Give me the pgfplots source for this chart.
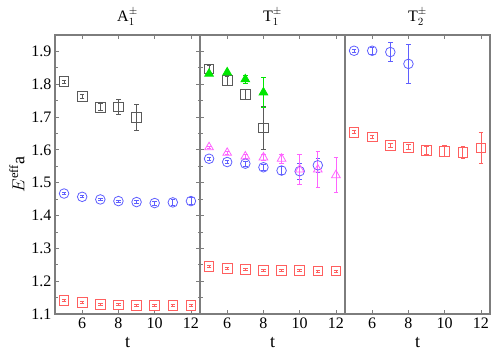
\documentclass[border=0pt]{standalone}
\usepackage{fontspec}
\setmainfont{Liberation Serif}
\usepackage{pgfplots}
\pgfplotsset{compat=1.18}
\usepgfplotslibrary{groupplots}
\definecolor{cred}{RGB}{255,95,95}
\definecolor{cblue}{RGB}{95,95,255}
\definecolor{cgray}{RGB}{90,90,90}
\definecolor{cgreen}{RGB}{0,230,0}
\definecolor{cmag}{RGB}{255,100,255}
\definecolor{caxis}{RGB}{125,125,125}
\pgfplotsset{
  ser/.style={only marks, mark size=#1, line width=0.8pt,
    error bars/.cd, y dir=both, y explicit,
    error bar style={line width=0.8pt},
    error mark options={rotate=90, mark size=2.2pt, line width=0.8pt},
    /pgfplots/.cd},
  redser/.style={ser=4.8pt, color=cred, mark=square, mark options={draw=cred, fill=none}},
  blueser/.style={ser=4.8pt, color=cblue, mark=o, mark options={draw=cblue, fill=none}},
  grayser/.style={ser=4.8pt, color=cgray, mark=square, mark options={draw=cgray, fill=none}},
  greenser/.style={ser=5pt, color=cgreen, mark=triangle*, mark options={draw=cgreen, fill=cgreen}},
  magser/.style={ser=5pt, color=cmag, mark=triangle, mark options={draw=cmag, fill=none}},
}
\begin{document}
\begin{tikzpicture}
\begin{groupplot}[
  group style={group size=3 by 1, horizontal sep=0pt},
  width=145pt, height=279pt, scale only axis,
  xmin=4.5, xmax=12.5, ymin=1.1, ymax=1.95,
  xtick={6,8,10,12}, ytick={1.1,1.2,...,1.91},
  minor y tick num=1,
  xtick pos=both, xticklabel pos=lower,
  tick align=inside,
  major tick length=4pt, minor tick length=2.5pt,
  axis line style={caxis, line width=1.3pt},
  every tick/.style={caxis, line width=0.8pt},
  /pgf/number format/assume math mode=true,
  /pgf/number format/fixed, /pgf/number format/precision=1,
  tick label style={font=\fontsize{16}{16}\selectfont},
  xlabel={t}, xlabel style={font=\fontsize{18}{18}\selectfont, yshift=-2pt},
  title style={font=\fontsize{16}{16}\selectfont, yshift=0pt},
  clip=false,
]
\nextgroupplot[title={A$_1^{\pm}$}, ytick pos=both, yticklabel pos=left,
  ylabel={$E^{\mathrm{eff}}$a}, ylabel style={font=\fontsize{18}{18}\selectfont, yshift=0pt},
  yticklabel style={/pgf/number format/fixed zerofill}]
\addplot+[redser] table[y error index=2] {
5 1.142 0.003
6 1.135 0.003
7 1.130 0.003
8 1.128 0.003
9 1.127 0.003
10 1.127 0.003
11 1.127 0.003
12 1.127 0.003
};
\addplot+[blueser] table[y error index=2] {
5 1.467 0.003
6 1.457 0.003
7 1.449 0.003
8 1.444 0.003
9 1.441 0.005
10 1.438 0.006
11 1.440 0.009
12 1.444 0.010
};
\addplot+[grayser] table[y error index=2] {
5 1.808 0.004
6 1.763 0.006
7 1.730 0.011
8 1.731 0.022
9 1.699 0.039
};
\nextgroupplot[title={T$_1^{\pm}$}, ytick pos=left, yticklabels={}]
\addplot+[redser] table[y error index=2] {
5 1.245 0.003
6 1.239 0.003
7 1.235 0.003
8 1.233 0.003
9 1.232 0.003
10 1.232 0.003
11 1.231 0.003
12 1.231 0.003
};
\addplot+[blueser] table[y error index=2] {
5 1.573 0.004
6 1.563 0.004
7 1.558 0.007
8 1.547 0.008
9 1.537 0.012
10 1.535 0.025
11 1.553 0.022
};
\addplot+[magser] table[y error index=2] {
5 1.608 0.004
6 1.591 0.005
7 1.580 0.007
8 1.577 0.009
9 1.573 0.013
10 1.540 0.045
11 1.540 0.054
12 1.523 0.053
};
\addplot+[grayser] table[y error index=2] {
5 1.847 0.010
6 1.811 0.014
7 1.769 0.015
8 1.667 0.066
};
\addplot+[greenser] table[y error index=2] {
5 1.832 0.004
6 1.836 0.006
7 1.815 0.012
8 1.775 0.046
};
\nextgroupplot[title={T$_2^{\pm}$}, ytick=\empty]
\addplot+[redser] table[y error index=2] {
5 1.654 0.004
6 1.639 0.005
7 1.613 0.006
8 1.608 0.008
9 1.598 0.012
10 1.596 0.017
11 1.593 0.019
12 1.606 0.048
};
\addplot+[blueser] table[y error index=2] {
5 1.902 0.004
6 1.902 0.010
7 1.898 0.028
8 1.862 0.060
};
\end{groupplot}
\path ([xshift=-55pt,yshift=-36pt]group c1r1.south west) rectangle ([xshift=10pt,yshift=35pt]group c3r1.north east);
\end{tikzpicture}
\end{document}
